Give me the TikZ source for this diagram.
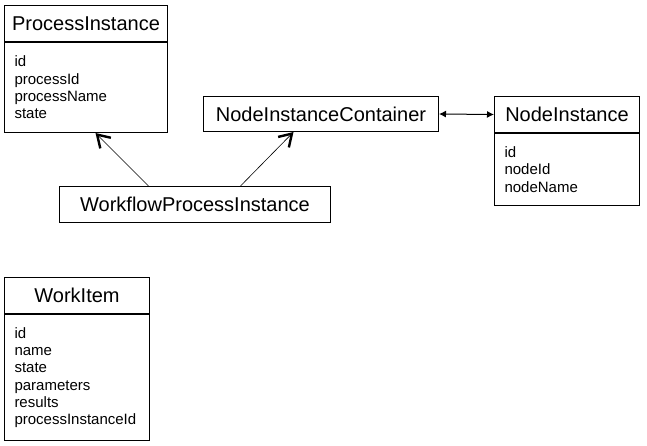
\documentclass[tikz,border=0pt]{standalone}
\usepackage{fontspec}
\setmainfont{Liberation Sans}
\usetikzlibrary{positioning,arrows.meta,calc}

\tikzset{
  classname/.style={draw,line width=1pt,anchor=north west,inner sep=0pt,
    font=\fontsize{20}{22}\selectfont},
  classattr/.style={draw,line width=1pt,anchor=north west,align=left,
    inner xsep=10pt,inner ysep=0pt,font=\fontsize{15}{17.3}\selectfont},
  inherit/.style={line width=0.6pt,-{Straight Barb[length=12pt,width=15pt,line width=2.4pt]}},
  assoc/.style={line width=1pt,{Latex[length=7pt,width=7pt]}-{Latex[length=7pt,width=7pt]}}
}

\begin{document}
\begin{tikzpicture}[x=1pt,y=-1pt]
  \useasboundingbox (0,0) rectangle (647,446);
  % pixel grid of the reference, y pointing down
  \node[classname,minimum width=163,minimum height=36] (pinst) at (4,5) {ProcessInstance};
  \node[classattr,text width=143,minimum height=90] (pattr) at (pinst.south west)
     {id\\processId\\processName\\state};

  \node[classname,minimum width=235,minimum height=35] (nic) at (203,96) {NodeInstanceContainer};

  \node[classname,minimum width=145,minimum height=36] (ninst) at (494,96) {NodeInstance};
  \node[classattr,text width=125,minimum height=72] (nattr) at (ninst.south west)
     {id\\nodeId\\nodeName};

  \node[classname,minimum width=271,minimum height=36] (wpi) at (59,186) {WorkflowProcessInstance};

  \node[classname,minimum width=145,minimum height=36] (witem) at (4,277) {WorkItem};
  \node[classattr,text width=125,minimum height=126] (wattr) at (witem.south west)
     {id\\name\\state\\parameters\\results\\processInstanceId};

  \draw[inherit] ([xshift=-46.5]wpi.north) -- ([xshift=9.5]pattr.south);
  \draw[inherit] ([xshift=45.5]wpi.north) -- ([xshift=-27.5]nic.south);
  \draw[assoc] (nic.east) -- (ninst.west);
\end{tikzpicture}
\end{document}
